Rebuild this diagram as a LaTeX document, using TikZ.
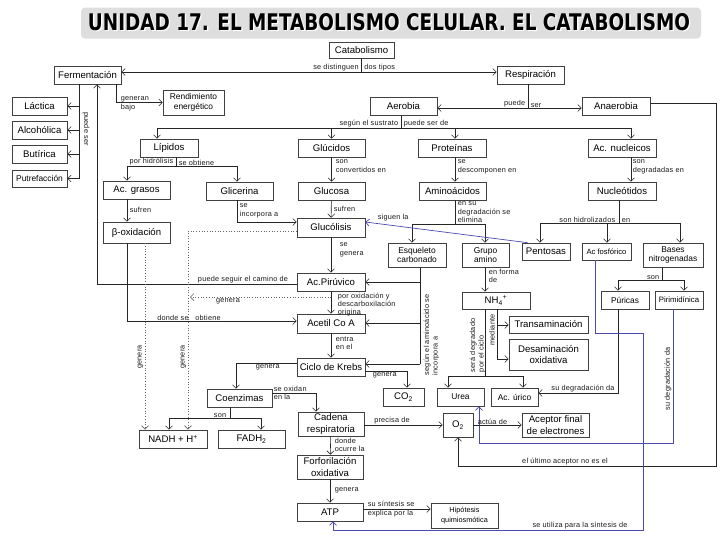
\documentclass[tikz,border=0pt]{standalone}
\usepackage{fontspec}
\setmainfont{Liberation Sans}
\newfontfamily\titlefont{DejaVu Sans}
\newfontfamily\lblfont{Liberation Sans}[LetterSpace=3]
\usepackage{graphicx}
\usetikzlibrary{arrows.meta,calc}
\definecolor{lblue}{RGB}{75,75,175}
\newcommand\mybox[7][]{\node[cbox,#1,minimum width={(#5)-(#3)},minimum height={(#6)-(#4)}] (#2) at ({((#3)+(#5))/2},{((#4)+(#6))/2}) {#7};}
\begin{document}
\begin{tikzpicture}[x=1pt,y=-1pt,
  >={Straight Barb[length=3.5pt,width=7pt]},
  cbox/.style={draw=black!75, fill=white, line width=0.6pt, inner sep=0.5pt, align=center, font=\fontsize{9.6}{11.5}\selectfont},
  sm/.style={font=\fontsize{8.4}{9.5}\selectfont},
  lbl/.style={font=\lblfont\fontsize{7.3}{8.4}\selectfont, inner sep=0.6pt, align=left, text=black!90},
  ln/.style={draw=black!85, line width=0.6pt},
  arr/.style={ln,->},
  arr2/.style={ln,<->},
  dotarr/.style={draw=black!60, line width=0.7pt, dotted, ->},
  bluearr/.style={draw=lblue, line width=0.7pt, ->}]
\useasboundingbox (0,0) rectangle (728,546);
\fill[white] (0,0) rectangle (728,546);
% title
\node[fill=black!13, rounded corners=4pt, minimum width=620pt, minimum height=31pt, inner sep=0pt] (tbg) at (391,23) {};
\node[inner sep=0pt] (tsh) at (390.3,23.3) {\resizebox{602pt}{17pt}{\titlefont\bfseries\color{white}UNIDAD 17. EL METABOLISMO CELULAR. EL CATABOLISMO}};
\node[inner sep=0pt] (ttl) at (389,22) {\resizebox{602pt}{17pt}{\titlefont\bfseries UNIDAD 17. EL METABOLISMO CELULAR. EL CATABOLISMO}};
% boxes
\mybox{cat}{329}{42}{394}{58}{Catabolismo}
\mybox{ferm}{54}{66}{121}{84}{Fermentación}
\mybox{resp}{497}{66}{564}{84}{Respiración}
\mybox{lact}{12}{97}{67}{115}{Láctica}
\mybox{alco}{12}{121}{67}{139}{Alcohólica}
\mybox{buti}{12}{145}{67}{163}{Butírica}
\mybox[sm]{putr}{12}{170}{67}{187}{Putrefacción}
\mybox[sm]{rend}{163}{90}{224}{115}{Rendimiento\\energético}
\mybox{aero}{370}{97}{437}{115}{Aerobia}
\mybox{anae}{582}{97}{650}{115}{Anaerobia}
\mybox{lip}{140}{139}{198}{157}{Lípidos}
\mybox{gluc}{298}{139}{365}{157}{Glúcidos}
\mybox{prot}{418}{139}{486}{157}{Proteínas}
\mybox{acnu}{588}{139}{656}{157}{Ac. nucleicos}
\mybox{acgr}{103}{181}{170}{199}{Ac. grasos}
\mybox{glic}{206}{182}{273}{200}{Glicerina}
\mybox{glcs}{298}{182}{365}{200}{Glucosa}
\mybox{amin}{419}{182}{486}{200}{Aminoácidos}
\mybox{nucl}{588}{182}{656}{200}{Nucleótidos}
\mybox{beta}{103}{222}{170}{243}{β-oxidación}
\mybox{glcl}{297}{218}{365}{237}{Glucólisis}
\mybox[sm]{esq}{388}{243}{446}{267}{Esqueleto\\carbonado}
\mybox[sm]{grup}{462}{243}{509}{267}{Grupo\\amino}
\mybox{pent}{522}{243}{570}{260}{Pentosas}
\mybox[font=\fontsize{7.6}{9}\selectfont]{acfo}{582}{243}{631}{260}{Ac fosfórico}
\mybox[sm]{base}{643}{243}{703}{267}{Bases\\nitrogenadas}
\mybox{piru}{297}{273}{365}{291}{Ac.Pirúvico}
\mybox[sm]{puri}{601}{291}{649}{309}{Púricas}
\mybox[font=\fontsize{7.8}{9}\selectfont]{piri}{655}{291}{703}{309}{Pirimidínica}
\mybox{nh4}{462}{292}{530}{309}{NH\textsubscript{4}\textsuperscript{+}}
\mybox{acet}{297}{314}{365}{333}{Acetil Co A}
\mybox{tran}{509}{316}{588}{333}{Transaminación}
\mybox{desa}{509}{339}{588}{370}{Desaminación\\oxidativa}
\mybox{kreb}{297}{358}{365}{376}{Ciclo de Krebs}
\mybox{co2}{383}{388}{424}{406}{CO\textsubscript{2}}
\mybox[sm]{urea}{437}{388}{484}{406}{Urea}
\mybox[sm]{acur}{491}{388}{538}{406}{Ac. úrico}
\mybox{coen}{207}{389}{272}{407}{Coenzimas}
\mybox{cade}{298}{412}{364}{436}{Cadena\\respiratoria}
\mybox{o2}{443}{413}{473}{437}{O\textsubscript{2}}
\mybox{acep}{522}{413}{589}{437}{Aceptor final\\de electrones}
\mybox{nadh}{139}{430}{207}{448}{NADH + H\textsuperscript{+}}
\mybox{fadh}{218}{430}{285}{448}{FADH\textsubscript{2}}
\mybox{forf}{297}{455}{363}{479}{Forforilación\\oxidativa}
\mybox{atp}{297}{503}{363}{521}{ATP}
\mybox[font=\fontsize{7.3}{9.5}\selectfont]{hipo}{431}{503}{498}{528}{Hipótesis\\quimiosmótica}
% connectors
\draw[ln] (cat.south) -- (cat.south |- 0,72);
\draw[arr2] (ferm.east |- 0,72) -- (resp.west |- 0,72);
\draw[ln] (ferm.south -| 79,0) -- (putr.east -| 79,0);
\draw[arr] (lact.east -| 79,0) -- (lact.east);
\draw[arr] (alco.east -| 79,0) -- (alco.east);
\draw[arr] (buti.east -| 79,0) -- (buti.east);
\draw[arr] (putr.east -| 79,0) -- (putr.east);
\draw[arr] (ferm.south -| 116,0) |- (rend.west);
\draw[arr] (piru.west |- 0,284) -| (ferm.south -| 97,0);
\draw[ln] (resp.south -| 528,0) -- (528,108);
\draw[arr2] (aero.east |- 0,108) -- (anae.west |- 0,108);
\draw[arr] (anae.east |- 0,103) -| (716,466) -| (o2.south);
\draw[ln] (aero.south -| 401,0) -- (401,128);
\draw[ln] (157,128) -- (631,128);
\draw[arr] (157,128) -- (lip.north -| 157,0);
\draw[arr] (gluc.north |- 0,128) -- (gluc.north);
\draw[arr] (455,128) -- (prot.north -| 455,0);
\draw[arr] (631,128) -- (acnu.north -| 631,0);
\draw[ln] (lip.south -| 176,0) -- (176,166);
\draw[ln] (127,166) -- (237,166);
\draw[arr] (127,166) -- (acgr.north -| 127,0);
\draw[arr] (237,166) -- (glic.north -| 237,0);
\draw[arr] (gluc) -- (glcs);
\draw[arr] (prot.south -| 455,0) -- (amin.north -| 455,0);
\draw[arr] (acnu.south -| 631,0) -- (nucl.north -| 631,0);
\draw[arr] (acgr.south -| 127,0) -- (beta.north -| 127,0);
\draw[arr] (glic.south -| 237,0) |- (glcl.west |- 0,222);
\draw[arr] (glcs) -- (glcl);
\draw[arr] (glcl) -- (piru);
\draw[arr] (piru) -- (acet);
\draw[arr] (acet) -- (kreb);
\draw[arr] (beta.south -| 127,0) |- (acet.west |- 0,321);
\draw[dotarr] (beta.south -| 145,0) -- (nadh.north -| 145,0);
\draw[dotarr] (glcl.west |- 0,231) -| (nadh.north -| 188,0);
\coordinate (pv) at (piru.south |- 0,297);
\coordinate (gd) at (190,297);
\draw[dotarr] (pv) -- (gd);
\draw[ln] (esq.south -| 420,0) -- (420,364);
\draw[arr] (420,282) -- (piru.east);
\draw[arr] (420,323) -- (acet.east |- 0,323);
\draw[arr] (420,364) -- (kreb.east |- 0,364);
\draw[ln] (amin.south -| 455,0) -- (455,224);
\draw[ln] (412,224) -- (485,224);
\draw[arr] (412,224) -- (esq.north -| 412,0);
\draw[arr] (485,224) -- (grup.north -| 485,0);
\draw[bluearr] ([xshift=6pt]pent.north west) -- (glcl.east |- 0,222);
\draw[ln] (nucl.south -| 619,0) -- (619,223);
\draw[ln] (540,223) -- (680,223);
\draw[arr] (540,223) -- (pent.north -| 540,0);
\draw[arr] (607,223) -- (acfo.north -| 607,0);
\draw[arr] (680,223) -- (base.north -| 680,0);
\draw[ln] (base.south -| 662,0) -- (662,280);
\draw[ln] (618,280) -- (684,280);
\draw[arr] (618,280) -- (puri.north -| 618,0);
\draw[arr] (684,280) -- (piri.north -| 684,0);
\draw[arr] (grup.south -| 485,0) -- (nh4.north -| 485,0);
\draw[ln] (nh4.south -| 497,0) -- (497,359);
\draw[arr] (497,325) -- (tran.west |- 0,325);
\draw[arr] (497,359) -- (desa.west |- 0,359);
\draw[ln] (nh4.south -| 485,0) -- (485,376);
\draw[ln] (448,376) -- (523,376);
\draw[arr] (448,376) -- (urea.north -| 448,0);
\draw[arr] (523,376) -- (acur.north -| 523,0);
\draw[arr] (kreb.east |- 0,371) -| (co2.north -| 407,0);
\draw[arr] (puri.south -| 618,0) |- (acur.east |- 0,393);
\draw[bluearr] (piri.south -| 673,0) |- (479,443) -- (urea.south -| 479,0);
\draw[bluearr] (acfo.south -| 595,0) |- (643,333) |- (333,530) -- (atp.south -| 333,0);
\draw[arr] (kreb.west |- 0,363) -| (coen.north -| 236,0);
\draw[ln] (coen.south -| 230,0) -- (230,418);
\draw[ln] (169,418) -- (261,418);
\draw[arr] (169,418) -- (nadh.north -| 169,0);
\draw[arr] (261,418) -- (fadh.north -| 261,0);
\draw[arr] (coen.east |- 0,393) -| (cade.north -| 316,0);
\draw[arr] (cade.east |- 0,425) -- (o2.west |- 0,425);
\draw[arr] (o2) -- (acep);
\draw[arr] (cade) -- (forf);
\draw[arr] (forf) -- (atp);
\draw[arr] (atp.east |- 0,509) -- (hipo.west |- 0,509);
% labels
\node[lbl, anchor=south east] (l1) at (359.5,72) {se distinguen};
\node[lbl, anchor=south west] (l2) at (363.5,72) {dos tipos};
\node[lbl, rotate=-90] (l3) at (86,129) {puede ser};
\node[lbl, anchor=south west] (l4) at (120,102.5) {generan};
\node[lbl, anchor=north west] (l5) at (120,103) {bajo};
\node[lbl, anchor=south] (l6) at (243,284) {puede seguir el camino de};
\node[lbl, anchor=south east] (l7) at (526,108) {puede};
\node[lbl, anchor=south west] (l8) at (530,108) {ser};
\node[lbl, anchor=south] (l9) at (565,466) {el último aceptor no es el};
\node[lbl, anchor=south east] (l10) at (399,128) {según el sustrato};
\node[lbl, anchor=south west] (l11) at (403,128) {puede ser de};
\node[lbl, anchor=south east] (l12) at (174,166) {por hidrólisis};
\node[lbl, anchor=south west] (l13) at (178,166) {se obtiene};
\node[lbl, anchor=north west] (l14) at (335,159) {son\\convertidos en};
\node[lbl, anchor=north west] (l15) at (457,159) {se\\descomponen en};
\node[lbl, anchor=north west] (l16) at (632,159) {son\\degradadas en};
\node[lbl, anchor=west] (l17) at (129,210) {sufren};
\node[lbl, anchor=north west] (l18) at (239,203) {se\\incorpora a};
\node[lbl, anchor=west] (l19) at (333,209) {sufren};
\node[lbl, anchor=north west] (l20) at (339,242) {se\\genera};
\node[lbl, anchor=north west] (l21) at (337,292) {por oxidación y\\descarboxilación\\origina};
\node[lbl, anchor=north west] (l22) at (335,336) {entra\\en el};
\node[lbl, anchor=south] (l23) at (189,321) {donde se \ \ obtiene};
\node[lbl, rotate=90] (l24) at (140.5,357) {genera};
\node[lbl, rotate=90] (l25) at (183.5,357) {genera};
\node[lbl, anchor=north] (l26) at (228,298) {genera};
\node[lbl, rotate=90, anchor=north west] (l27) at (423,376) {según el aminoácido se\\incorpora a};
\node[lbl, anchor=north west] (l28) at (457,201) {en su\\degradación se\\elimina};
\node[lbl, anchor=south west] (l29) at (377,222) {siguen la};
\node[lbl, anchor=south east] (l30) at (616,223) {son hidrolizados};
\node[lbl, anchor=south west] (l31) at (621,223) {en};
\node[lbl, anchor=south east] (l32) at (660,280) {son};
\node[lbl, anchor=north west] (l33) at (488,268) {en forma\\de};
\node[lbl, rotate=90] (l34) at (492,330) {mediante};
\node[lbl, rotate=90, anchor=north west] (l35) at (469,373) {será degradado\\por el ciclo};
\node[lbl, anchor=north west] (l36) at (372,372) {genera};
\node[lbl, anchor=south] (l37) at (583,393) {su degradación da};
\node[lbl, rotate=90] (l38) at (668,379) {su degradación da};
\node[lbl, anchor=south] (l39) at (580,530) {se utiliza para la síntesis de};
\node[lbl, anchor=north west] (l40) at (255,364) {genera};
\node[lbl, anchor=south east] (l41) at (227,418) {son};
\node[lbl, anchor=west] (l42) at (273,393) {se oxidan\\en la};
\node[lbl, anchor=south] (l43) at (392,425) {precisa de};
\node[lbl, anchor=south west] (l44) at (477,425) {actúa de};
\node[lbl, anchor=north west] (l45) at (334,437) {donde\\ocurre la};
\node[lbl, anchor=west] (l46) at (334,490) {genera};
\node[lbl, anchor=west] (l47) at (367,509) {su síntesis se\\explica por la};
\end{tikzpicture}
\end{document}
